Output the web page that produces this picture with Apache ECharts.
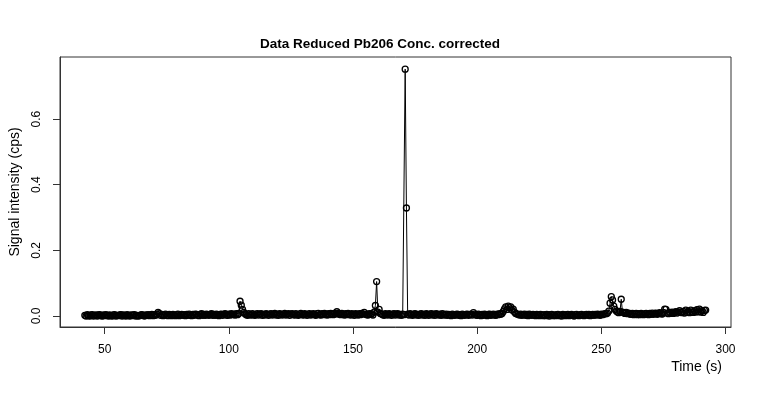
<!DOCTYPE html>
<html lang="en">
<head>
    <meta charset="UTF-8">
    <title>Data Reduced Pb206 Conc. corrected</title>
    <script src="https://cdn.jsdelivr.net/npm/echarts@6/dist/echarts.min.js"></script>
    <style>
        body { margin: 0; background: #fff; }
    </style>
</head>
<body>
<div id="main" style="width: 760px;height: 400px"></div>
<script>
    // acquisition time (s)
    var time = [
        42.0, 42.5, 43.0, 43.5, 44.0, 44.5, 45.0, 45.5, 46.0, 46.5,
        47.0, 47.5, 48.0, 48.5, 49.0, 49.5, 50.0, 50.5, 51.0, 51.5,
        52.0, 52.5, 53.0, 53.5, 54.0, 54.5, 55.0, 55.5, 56.0, 56.5,
        57.0, 57.5, 58.0, 58.5, 59.0, 59.5, 60.0, 60.5, 61.0, 61.5,
        62.0, 62.5, 63.0, 63.5, 64.0, 64.5, 65.0, 65.5, 66.0, 66.5,
        67.0, 67.5, 68.0, 68.5, 69.0, 69.5, 70.0, 70.5, 71.0, 71.5,
        72.0, 72.5, 73.0, 73.5, 74.0, 74.5, 75.0, 75.5, 76.0, 76.5,
        77.0, 77.5, 78.0, 78.5, 79.0, 79.5, 80.0, 80.5, 81.0, 81.5,
        82.0, 82.5, 83.0, 83.5, 84.0, 84.5, 85.0, 85.5, 86.0, 86.5,
        87.0, 87.5, 88.0, 88.5, 89.0, 89.5, 90.0, 90.5, 91.0, 91.5,
        92.0, 92.5, 93.0, 93.5, 94.0, 94.5, 95.0, 95.5, 96.0, 96.5,
        97.0, 97.5, 98.0, 98.5, 99.0, 99.5, 100.0, 100.5, 101.0, 101.5,
        102.0, 102.5, 103.0, 103.5, 104.0, 104.5, 105.0, 105.5, 106.0, 106.5,
        107.0, 107.5, 108.0, 108.5, 109.0, 109.5, 110.0, 110.5, 111.0, 111.5,
        112.0, 112.5, 113.0, 113.5, 114.0, 114.5, 115.0, 115.5, 116.0, 116.5,
        117.0, 117.5, 118.0, 118.5, 119.0, 119.5, 120.0, 120.5, 121.0, 121.5,
        122.0, 122.5, 123.0, 123.5, 124.0, 124.5, 125.0, 125.5, 126.0, 126.5,
        127.0, 127.5, 128.0, 128.5, 129.0, 129.5, 130.0, 130.5, 131.0, 131.5,
        132.0, 132.5, 133.0, 133.5, 134.0, 134.5, 135.0, 135.5, 136.0, 136.5,
        137.0, 137.5, 138.0, 138.5, 139.0, 139.5, 140.0, 140.5, 141.0, 141.5,
        142.0, 142.5, 143.0, 143.5, 144.0, 144.5, 145.0, 145.5, 146.0, 146.5,
        147.0, 147.5, 148.0, 148.5, 149.0, 149.5, 150.0, 150.5, 151.0, 151.5,
        152.0, 152.5, 153.0, 153.5, 154.0, 154.5, 155.0, 155.5, 156.0, 156.5,
        157.0, 157.5, 158.0, 158.5, 159.0, 159.5, 160.0, 160.5, 161.0, 161.5,
        162.0, 162.5, 163.0, 163.5, 164.0, 164.5, 165.0, 165.5, 166.0, 166.5,
        167.0, 167.5, 168.0, 168.5, 169.0, 169.5, 170.0, 170.5, 171.0, 171.5,
        172.0, 172.5, 173.0, 173.5, 174.0, 174.5, 175.0, 175.5, 176.0, 176.5,
        177.0, 177.5, 178.0, 178.5, 179.0, 179.5, 180.0, 180.5, 181.0, 181.5,
        182.0, 182.5, 183.0, 183.5, 184.0, 184.5, 185.0, 185.5, 186.0, 186.5,
        187.0, 187.5, 188.0, 188.5, 189.0, 189.5, 190.0, 190.5, 191.0, 191.5,
        192.0, 192.5, 193.0, 193.5, 194.0, 194.5, 195.0, 195.5, 196.0, 196.5,
        197.0, 197.5, 198.0, 198.5, 199.0, 199.5, 200.0, 200.5, 201.0, 201.5,
        202.0, 202.5, 203.0, 203.5, 204.0, 204.5, 205.0, 205.5, 206.0, 206.5,
        207.0, 207.5, 208.0, 208.5, 209.0, 209.5, 210.0, 210.5, 211.0, 211.5,
        212.0, 212.5, 213.0, 213.5, 214.0, 214.5, 215.0, 215.5, 216.0, 216.5,
        217.0, 217.5, 218.0, 218.5, 219.0, 219.5, 220.0, 220.5, 221.0, 221.5,
        222.0, 222.5, 223.0, 223.5, 224.0, 224.5, 225.0, 225.5, 226.0, 226.5,
        227.0, 227.5, 228.0, 228.5, 229.0, 229.5, 230.0, 230.5, 231.0, 231.5,
        232.0, 232.5, 233.0, 233.5, 234.0, 234.5, 235.0, 235.5, 236.0, 236.5,
        237.0, 237.5, 238.0, 238.5, 239.0, 239.5, 240.0, 240.5, 241.0, 241.5,
        242.0, 242.5, 243.0, 243.5, 244.0, 244.5, 245.0, 245.5, 246.0, 246.5,
        247.0, 247.5, 248.0, 248.5, 249.0, 249.5, 250.0, 250.5, 251.0, 251.5,
        252.0, 252.5, 253.0, 253.5, 254.0, 254.5, 255.0, 255.5, 256.0, 256.5,
        257.0, 257.5, 258.0, 258.5, 259.0, 259.5, 260.0, 260.5, 261.0, 261.5,
        262.0, 262.5, 263.0, 263.5, 264.0, 264.5, 265.0, 265.5, 266.0, 266.5,
        267.0, 267.5, 268.0, 268.5, 269.0, 269.5, 270.0, 270.5, 271.0, 271.5,
        272.0, 272.5, 273.0, 273.5, 274.0, 274.5, 275.0, 275.5, 276.0, 276.5,
        277.0, 277.5, 278.0, 278.5, 279.0, 279.5, 280.0, 280.5, 281.0, 281.5,
        282.0, 282.5, 283.0, 283.5, 284.0, 284.5, 285.0, 285.5, 286.0, 286.5,
        287.0, 287.5, 288.0, 288.5, 289.0, 289.5, 290.0, 290.5, 291.0, 291.5,
        292.0
    ];

    // signal intensity (cps)
    var signal = [
        0.002, 0.000, 0.004, 0.001, 0.000, 0.003, 0.004, 0.000, 0.002, 0.003,
        0.000, 0.003, 0.004, 0.001, 0.000, 0.003, 0.001, 0.004, 0.002, 0.000,
        0.003, 0.001, 0.000, 0.003, 0.004, 0.000, 0.002, 0.001, 0.003, 0.004,
        0.000, 0.003, 0.002, 0.000, 0.004, 0.002, 0.000, 0.003, 0.001, 0.003,
        0.004, 0.000, 0.002, 0.000, 0.001, 0.003, 0.004, 0.002, 0.000, 0.003,
        0.002, 0.004, 0.001, 0.003, 0.005, 0.001, 0.004, 0.002, 0.006, 0.011,
        0.007, 0.002, 0.005, 0.001, 0.004, 0.006, 0.002, 0.001, 0.005, 0.003,
        0.001, 0.005, 0.002, 0.001, 0.004, 0.006, 0.001, 0.003, 0.005, 0.002,
        0.004, 0.001, 0.005, 0.002, 0.006, 0.003, 0.001, 0.005, 0.002, 0.006,
        0.005, 0.002, 0.001, 0.005, 0.007, 0.002, 0.005, 0.002, 0.006, 0.004,
        0.002, 0.005, 0.007, 0.002, 0.005, 0.002, 0.006, 0.004, 0.001, 0.005,
        0.006, 0.002, 0.005, 0.007, 0.003, 0.002, 0.006, 0.003, 0.007, 0.004,
        0.006, 0.003, 0.007, 0.004, 0.008, 0.045, 0.033, 0.020, 0.011, 0.007,
        0.004, 0.002, 0.007, 0.004, 0.003, 0.007, 0.004, 0.002, 0.006, 0.007,
        0.003, 0.006, 0.007, 0.002, 0.005, 0.003, 0.007, 0.005, 0.002, 0.006,
        0.007, 0.003, 0.005, 0.008, 0.003, 0.006, 0.002, 0.007, 0.005, 0.003,
        0.006, 0.008, 0.003, 0.005, 0.007, 0.002, 0.006, 0.007, 0.004, 0.003,
        0.007, 0.004, 0.002, 0.006, 0.008, 0.004, 0.003, 0.007, 0.005, 0.002,
        0.006, 0.007, 0.003, 0.005, 0.007, 0.004, 0.002, 0.007, 0.008, 0.004,
        0.003, 0.007, 0.004, 0.008, 0.005, 0.003, 0.007, 0.004, 0.008, 0.006,
        0.004, 0.008, 0.006, 0.013, 0.008, 0.005, 0.004, 0.008, 0.006, 0.003,
        0.007, 0.004, 0.008, 0.005, 0.003, 0.007, 0.005, 0.002, 0.007, 0.005,
        0.003, 0.007, 0.004, 0.008, 0.006, 0.011, 0.006, 0.004, 0.003, 0.007,
        0.005, 0.007, 0.003, 0.012, 0.032, 0.105, 0.012, 0.020, 0.008, 0.006,
        0.004, 0.002, 0.007, 0.005, 0.003, 0.007, 0.005, 0.002, 0.006, 0.007,
        0.003, 0.006, 0.007, 0.003, 0.005, 0.002, 0.006, 0.004, 0.752, 0.329,
        0.006, 0.003, 0.007, 0.004, 0.002, 0.006, 0.007, 0.003, 0.005, 0.002,
        0.006, 0.007, 0.003, 0.005, 0.002, 0.007, 0.005, 0.002, 0.006, 0.007,
        0.003, 0.006, 0.002, 0.007, 0.005, 0.003, 0.006, 0.002, 0.007, 0.004,
        0.003, 0.006, 0.002, 0.005, 0.004, 0.001, 0.006, 0.004, 0.002, 0.005,
        0.006, 0.002, 0.004, 0.001, 0.006, 0.004, 0.002, 0.005, 0.006, 0.002,
        0.004, 0.006, 0.003, 0.010, 0.006, 0.003, 0.002, 0.006, 0.004, 0.001,
        0.005, 0.002, 0.006, 0.004, 0.001, 0.005, 0.006, 0.002, 0.004, 0.006,
        0.003, 0.002, 0.006, 0.004, 0.007, 0.005, 0.008, 0.014, 0.022, 0.028,
        0.020, 0.030, 0.025, 0.028, 0.018, 0.021, 0.012, 0.008, 0.006, 0.005,
        0.003, 0.006, 0.002, 0.004, 0.006, 0.002, 0.005, 0.001, 0.006, 0.004,
        0.002, 0.005, 0.003, 0.001, 0.005, 0.003, 0.001, 0.005, 0.003, 0.001,
        0.004, 0.001, 0.005, 0.003, 0.000, 0.004, 0.005, 0.001, 0.003, 0.001,
        0.004, 0.005, 0.001, 0.003, 0.000, 0.005, 0.003, 0.001, 0.004, 0.005,
        0.001, 0.003, 0.005, 0.002, 0.000, 0.004, 0.005, 0.002, 0.001, 0.004,
        0.005, 0.002, 0.001, 0.004, 0.005, 0.002, 0.005, 0.001, 0.003, 0.005,
        0.002, 0.005, 0.003, 0.006, 0.004, 0.002, 0.006, 0.004, 0.006, 0.007,
        0.007, 0.009, 0.015, 0.039, 0.059, 0.049, 0.030, 0.020, 0.015, 0.012,
        0.010, 0.014, 0.051, 0.012, 0.010, 0.008, 0.011, 0.007, 0.009, 0.006,
        0.005, 0.008, 0.004, 0.007, 0.008, 0.004, 0.007, 0.004, 0.008, 0.005,
        0.004, 0.007, 0.008, 0.005, 0.004, 0.008, 0.005, 0.009, 0.005, 0.008,
        0.009, 0.005, 0.008, 0.010, 0.007, 0.006, 0.010, 0.021, 0.020, 0.009,
        0.007, 0.011, 0.008, 0.012, 0.008, 0.011, 0.013, 0.009, 0.012, 0.016,
        0.011, 0.010, 0.014, 0.009, 0.018, 0.011, 0.015, 0.010, 0.018, 0.012,
        0.011, 0.016, 0.012, 0.019, 0.013, 0.021, 0.012, 0.016, 0.011, 0.017,
        0.018
    ];

    var xTicks = [50, 100, 150, 200, 250, 300];
    var yTicks = [0, 0.2, 0.4, 0.6];

    var points = [];
    for (var i = 0; i < time.length; i++) {
        points.push([time[i], signal[i]]);
    }

    var font = '"Liberation Sans", Arial, Helvetica, sans-serif';

    var myChart = echarts.init(document.getElementById('main'));

    var option = {
        animation: false,
        backgroundColor: '#fff',
        textStyle: { fontFamily: font, color: '#000' },
        title: {
            text: 'Data Reduced Pb206 Conc. corrected',
            left: 'center',
            top: 32,
            textStyle: { fontFamily: font, fontSize: 13.5, fontWeight: 'bold', color: '#000' }
        },
        grid: {
            left: 60, right: 29, top: 57, bottom: 73,
            outerBoundsMode: 'none',
            show: true,
            borderColor: '#333',
            borderWidth: 1,
            backgroundColor: 'transparent'
        },
        xAxis: {
            type: 'value',
            min: 32,
            max: 302.2,
            axisLine: { show: true, onZero: false, lineStyle: { color: '#333' } },
            splitLine: { show: false },
            axisTick: {
                customValues: xTicks,
                inside: false,
                length: 7,
                lineStyle: { color: '#333' }
            },
            axisLabel: {
                customValues: xTicks,
                margin: 17,
                fontSize: 12,
                color: '#000',
                fontFamily: font
            }
        },
        yAxis: {
            type: 'value',
            min: -0.0335,
            max: 0.789,
            name: 'Signal intensity (cps)',
            nameLocation: 'middle',
            nameGap: 38,
            nameRotate: 90,
            nameTextStyle: { fontSize: 14, color: '#000', fontFamily: font },
            axisLine: { show: true, onZero: false, lineStyle: { color: '#333' } },
            splitLine: { show: false },
            axisTick: {
                customValues: yTicks,
                inside: false,
                length: 7,
                lineStyle: { color: '#333' }
            },
            axisLabel: {
                customValues: yTicks,
                rotate: 90,
                margin: 17,
                fontSize: 12,
                color: '#000',
                fontFamily: font,
                formatter: function (v) { return v.toFixed(1); }
            }
        },
        graphic: [{
            type: 'text',
            right: 38,
            top: 360,
            style: {
                text: 'Time (s)',
                font: '14px ' + font,
                fill: '#000'
            }
        }],
        series: [{
            type: 'line',
            data: points,
            symbol: 'circle',
            symbolSize: 6,
            showAllSymbol: true,
            lineStyle: { color: '#000', width: 1 },
            itemStyle: { color: 'transparent', borderColor: '#000', borderWidth: 1.3 },
            emphasis: { disabled: true }
        }]
    };

    myChart.setOption(option);
</script>
</body>
</html>
